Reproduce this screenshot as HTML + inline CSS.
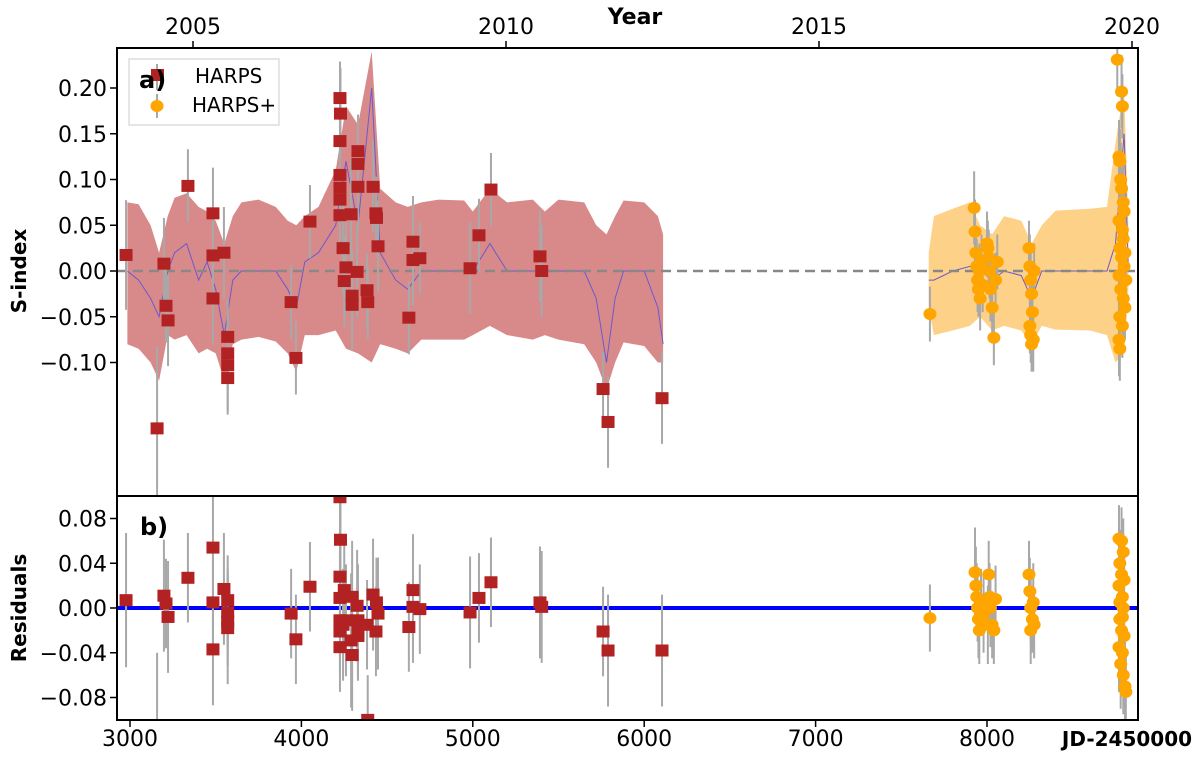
<!DOCTYPE html>
<html><head><meta charset="utf-8"><style>
html,body{margin:0;padding:0;background:#fff;width:1200px;height:757px;overflow:hidden;position:relative;}
svg{display:block;}
svg text{font-family:"DejaVu Sans","Liberation Sans",sans-serif;}
</style></head><body>
<svg id="chart" width="1200" height="757" viewBox="0 0 1200 757" xmlns="http://www.w3.org/2000/svg" style="position:absolute;left:0;top:0">
<g id="bands"></g><g id="marks"></g><g id="axes"></g>
</svg>
<script>
// ---- data ----
const bandRedJD=[2985,3050,3120,3170,3220,3260,3330,3400,3450,3500,3550,3600,3650,3750,3850,3920,3970,4020,4100,4200,4260,4330,4410,4460,4550,4620,4700,4800,4950,5000,5100,5200,5350,5420,5500,5650,5720,5780,5830,5880,6000,6080,6110];
const bandRedUp=[0.075,0.073,0.05,0.02,0.06,0.08,0.085,0.07,0.065,0.055,0.03,0.06,0.075,0.078,0.07,0.055,0.05,0.06,0.07,0.11,0.18,0.16,0.24,0.09,0.075,0.07,0.075,0.078,0.077,0.065,0.09,0.075,0.078,0.065,0.078,0.075,0.05,0.04,0.06,0.077,0.075,0.06,0.04];
const bandRedLo=[-0.08,-0.085,-0.1,-0.12,-0.07,-0.075,-0.07,-0.09,-0.085,-0.09,-0.12,-0.08,-0.075,-0.072,-0.077,-0.09,-0.11,-0.07,-0.07,-0.065,-0.085,-0.09,-0.1,-0.08,-0.085,-0.09,-0.075,-0.075,-0.075,-0.07,-0.06,-0.07,-0.075,-0.07,-0.075,-0.08,-0.1,-0.13,-0.1,-0.078,-0.082,-0.1,-0.1];
const modelRed=[0.0,-0.01,-0.03,-0.05,0.0,0.02,0.03,-0.01,0.01,-0.02,-0.07,-0.01,0.0,0.0,0.0,-0.02,-0.04,0.01,0.02,0.05,0.12,0.05,0.2,0.02,-0.01,-0.02,0.0,0.0,0.0,0.0,0.03,0.0,0.0,0.0,0.0,0.0,-0.03,-0.1,-0.03,0.0,0.0,-0.04,-0.08];
const bandOrJD=[7660,7690,7800,7900,7960,8030,8100,8200,8260,8320,8400,8600,8700,8750,8800,8825];
const bandOrUp=[0.02,0.06,0.068,0.075,0.05,0.04,0.06,0.055,0.03,0.05,0.066,0.068,0.07,0.14,0.2,0.05];
const bandOrLo=[-0.04,-0.07,-0.065,-0.06,-0.05,-0.065,-0.06,-0.065,-0.08,-0.06,-0.064,-0.065,-0.07,-0.1,-0.09,-0.02];
const modelOr=[-0.01,-0.01,0.0,0.005,0.0,-0.01,0.0,-0.005,-0.03,0.0,0.0,0.0,0.0,0.03,0.15,0.0];

const harpsJD=[2977,3158,3198,3210,3222,3338,3484,3484,3484,3548,3570,3570,3570,3570,3940,3968,4050,4225,4228,4225,4225,4225,4225,4225,4243,4260,4250,4290,4296,4296,4330,4330,4330,4325,4383,4387,4418,4435,4438,4447,4651,4651,4627,4691,4984,5036,5106,5392,5402,5760,5789,6104];
const harpsS=[0.0175,-0.172,0.008,-0.038,-0.054,0.093,0.063,0.017,-0.03,0.02,-0.072,-0.09,-0.103,-0.117,-0.034,-0.095,0.054,0.189,0.172,0.142,0.105,0.091,0.078,0.061,0.025,0.004,-0.011,0.062,-0.027,-0.037,0.131,0.117,0.092,-0.001,-0.021,-0.034,0.092,0.063,0.058,0.027,0.032,0.012,-0.051,0.014,0.003,0.039,0.089,0.016,0.0,-0.129,-0.165,-0.139];
const harpsErr=[0.06,0.09,0.05,0.04,0.05,0.04,0.05,0.04,0.05,0.05,0.04,0.04,0.05,0.04,0.04,0.04,0.04,0.04,0.05,0.04,0.04,0.04,0.04,0.04,0.05,0.05,0.05,0.06,0.05,0.05,0.04,0.04,0.05,0.05,0.04,0.04,0.05,0.04,0.04,0.05,0.05,0.05,0.04,0.04,0.05,0.04,0.04,0.05,0.05,0.04,0.05,0.05];
const harpsRes=[0.007,-0.13,0.011,0.004,-0.008,0.027,0.054,0.005,-0.037,0.017,0.007,-0.004,-0.018,-0.012,-0.005,-0.028,0.019,0.099,0.061,0.028,-0.011,-0.021,-0.035,0.009,-0.015,-0.011,0.016,-0.029,-0.042,0.01,-0.025,-0.021,-0.011,0.002,-0.015,-0.1,0.012,-0.021,0.005,-0.005,0.016,0.001,-0.017,-0.001,-0.004,0.009,0.023,0.005,0.001,-0.021,-0.038,-0.038];

const plusJD=[7667,7925,7930,7935,7940,7945,7950,7955,7960,7968,7975,8000,8005,8010,8015,8020,8030,8040,8050,8060,8245,8250,8255,8260,8265,8250,8255,8260,8270,8275,8760,8785,8790,8770,8775,8780,8785,8795,8800,8770,8790,8795,8775,8785,8800,8770,8780,8795,8805,8775,8790,8770,8775,8805,8810];
const plusS=[-0.047,0.069,0.043,0.02,0.005,-0.01,-0.02,0.0,-0.03,0.01,-0.015,0.03,0.025,0.015,0.0,-0.02,-0.04,-0.073,-0.01,0.01,0.025,0.005,-0.01,-0.025,-0.045,-0.06,-0.07,-0.08,-0.075,0.0,0.231,0.196,0.18,0.125,0.12,0.1,0.09,0.075,0.065,0.055,0.045,0.035,0.025,0.015,0.005,-0.005,-0.02,-0.03,-0.04,-0.05,-0.06,-0.075,-0.085,0.02,-0.01];
const plusErr=[0.03,0.04,0.035,0.03,0.03,0.035,0.03,0.03,0.035,0.03,0.03,0.035,0.03,0.03,0.03,0.035,0.03,0.03,0.03,0.03,0.03,0.035,0.03,0.03,0.03,0.03,0.03,0.03,0.035,0.03,0.04,0.04,0.035,0.04,0.035,0.04,0.035,0.04,0.035,0.04,0.035,0.04,0.035,0.04,0.035,0.04,0.035,0.04,0.035,0.04,0.035,0.04,0.035,0.04,0.035];
const plusResJD=[7667,7930,7935,7940,7945,7950,7955,7965,7980,8010,8015,8020,8030,8040,8050,8005,8245,8250,8255,8265,8255,8270,8275,8770,8785,8795,8775,8785,8800,8770,8790,8795,8775,8785,8800,8770,8790,8780,8795,8805,8810,8775,8790];
const plusRes=[-0.009,0.032,0.02,0.01,0.0,-0.01,-0.02,0.005,-0.005,0.03,0.01,0.0,-0.015,-0.02,0.008,-0.015,0.03,0.015,0.0,-0.01,-0.02,0.005,-0.015,0.062,0.06,0.05,0.04,0.03,0.025,0.02,0.01,0.0,-0.01,-0.02,-0.025,-0.035,-0.04,-0.05,-0.06,-0.07,-0.075,0.005,-0.008];

const xTicks=[3000,4000,5000,6000,7000,8000];
const yTopTicks=[0.20,0.15,0.10,0.05,0.00,-0.05,-0.10];
const yTopLabels=["0.20","0.15","0.10","0.05","0.00","\u22120.05","\u22120.10"];
const yBotTicks=[0.08,0.04,0.00,-0.04,-0.08];
const yBotLabels=["0.08","0.04","0.00","\u22120.04","\u22120.08"];
const yearTicks=[2005,2010,2015,2020];

// ---- scales ----
const L=117,R=1138,T=48,M=496,B=720;
const X=jd=>130+(jd-3000)*0.1714;
const YT=s=>271-s*915;
const YB=s=>608-s*1118.75;
const yearX=y=>193+(y-2005)*62.6;
const NS="http://www.w3.org/2000/svg";
function el(tag,attrs,parent,txt){const e=document.createElementNS(NS,tag);for(const k in attrs)e.setAttribute(k,attrs[k]);if(txt!==undefined)e.textContent=txt;parent.appendChild(e);return e;}
const gB=document.getElementById('bands'),gM=document.getElementById('marks'),gA=document.getElementById('axes');

const defs=el('defs',{},document.getElementById('chart'));
const cp=el('clipPath',{id:'cT'},defs);el('rect',{x:L,y:T,width:R-L,height:M-T},cp);
const cp2=el('clipPath',{id:'cB'},defs);el('rect',{x:L,y:M,width:R-L,height:B-M},cp2);
gB.setAttribute('clip-path','url(#cT)');

function band(jd,up,lo,fill,name){
  let d='M'+jd.map((j,i)=>X(j).toFixed(1)+','+YT(up[i]).toFixed(1)).join('L');
  for(let i=jd.length-1;i>=0;i--)d+='L'+X(jd[i]).toFixed(1)+','+YT(lo[i]).toFixed(1);
  const p=el('path',{d:d+'Z',fill:fill},gB);
  
  
}
band(bandRedJD,bandRedUp,bandRedLo,'#d88a8a','harps-confidence-band');
band(bandOrJD,bandOrUp,bandOrLo,'#fdd288','harpsplus-confidence-band');
function line(jd,v,name){
  const p=el('path',{d:'M'+jd.map((j,i)=>X(j).toFixed(1)+','+YT(v[i]).toFixed(1)).join('L'),fill:'none',stroke:'#6a5acd','stroke-width':1},gB);
  
  
}
line(bandRedJD,modelRed,'harps-model-line');
line(bandOrJD,modelOr,'harpsplus-model-line');

const z=el('line',{x1:L,x2:R,y1:YT(0),y2:YT(0),stroke:'#888','stroke-width':2.5,'stroke-dasharray':'10 6'},gM);


const zb=el('line',{x1:L,x2:R,y1:YB(0),y2:YB(0),stroke:'#0000ff','stroke-width':4},gM);



const gTop=el('g',{'clip-path':'url(#cT)'},gM),gBot=el('g',{'clip-path':'url(#cB)'},gM);
function pts(jd,v,err,Y,g,kind,name){
  jd.forEach((j,i)=>{
    const x=X(j),y=Y(v[i]),e=Math.abs(Y(err[i])-Y(0));
    el('line',{x1:x,x2:x,y1:y-e,y2:y+e,stroke:'#a8a8a8','stroke-width':2},g);
  });
  jd.forEach((j,i)=>{
    const x=X(j),y=Y(v[i]);let m;
    if(kind==='sq')m=el('rect',{x:x-6.5,y:y-6,width:13,height:12,fill:'#b22222'},g);
    else m=el('ellipse',{cx:x,cy:y,rx:6.5,ry:6,fill:'#ffa500'},g);
    
    
  });
}
pts(harpsJD,harpsS,harpsErr,YT,gTop,'sq','harps-point');
pts(plusJD,plusS,plusErr,YT,gTop,'c','harpsplus-point');
pts(harpsJD,harpsRes,harpsErr,YB,gBot,'sq','harps-residual');
pts(plusResJD,plusRes,plusErr,YB,gBot,'c','harpsplus-residual');

el('rect',{x:L,y:T,width:R-L,height:B-T,fill:'none',stroke:'#000','stroke-width':2},gA);
el('line',{x1:L,x2:R,y1:M,y2:M,stroke:'#000','stroke-width':2},gA);
xTicks.forEach(t=>{el('line',{x1:X(t),x2:X(t),y1:B,y2:B+7,stroke:'#000','stroke-width':1.5},gA);
  const tx=el('text',{x:X(t),y:746,'font-size':22,'text-anchor':'middle'},gA,String(t));
  });
yearTicks.forEach(t=>{el('line',{x1:yearX(t),x2:yearX(t),y1:T,y2:T-7,stroke:'#000','stroke-width':1.5},gA);
  const tx=el('text',{x:yearX(t),y:34,'font-size':22,'text-anchor':'middle'},gA,String(t));
  });
yTopTicks.forEach((t,i)=>{el('line',{x1:L,x2:L-7,y1:YT(t),y2:YT(t),stroke:'#000','stroke-width':1.5},gA);
  const tx=el('text',{x:107,y:YT(t)+8,'font-size':22,'text-anchor':'end'},gA,yTopLabels[i]);
  });
yBotTicks.forEach((t,i)=>{el('line',{x1:L,x2:L-7,y1:YB(t),y2:YB(t),stroke:'#000','stroke-width':1.5},gA);
  const tx=el('text',{x:107,y:YB(t)+8,'font-size':22,'text-anchor':'end'},gA,yBotLabels[i]);
  });
</script>
<svg style="position:absolute;left:0;top:0" width="1200" height="757">
<text x="635" y="24" font-size="22" font-weight="bold" text-anchor="middle" font-family="Liberation Sans, sans-serif">Year</text>
<text x="1127" y="746" font-size="20" font-weight="bold" text-anchor="middle" font-family="Liberation Sans, sans-serif">JD-2450000</text>
<text transform="translate(26,271) rotate(-90)" font-size="20" font-weight="bold" text-anchor="middle" font-family="Liberation Sans, sans-serif">S-index</text>
<text transform="translate(26,608) rotate(-90)" font-size="20" font-weight="bold" text-anchor="middle" font-family="Liberation Sans, sans-serif">Residuals</text>
<g>
<rect x="129" y="59" width="150" height="66" fill="#fff" fill-opacity="0.85" stroke="#ddd" stroke-width="1.5"/>
<line x1="157" x2="157" y1="64" y2="90" stroke="#a8a8a8" stroke-width="2"/>
<rect x="151" y="69" width="13" height="12" fill="#b22222"/>
<line x1="157" x2="157" y1="94" y2="118" stroke="#a8a8a8" stroke-width="2"/>
<ellipse cx="157" cy="106" rx="6.5" ry="6" fill="#ffa500"/>
<text x="195" y="83" font-size="20" font-family="Liberation Sans, sans-serif">HARPS</text>
<text x="192" y="112" font-size="20" font-family="Liberation Sans, sans-serif">HARPS+</text>
</g>
<text x="139" y="88" font-size="24" font-weight="bold" font-family="Liberation Sans, sans-serif">a)</text>
<text x="140" y="535" font-size="24" font-weight="bold" font-family="Liberation Sans, sans-serif">b)</text>
</svg>
</body></html>
